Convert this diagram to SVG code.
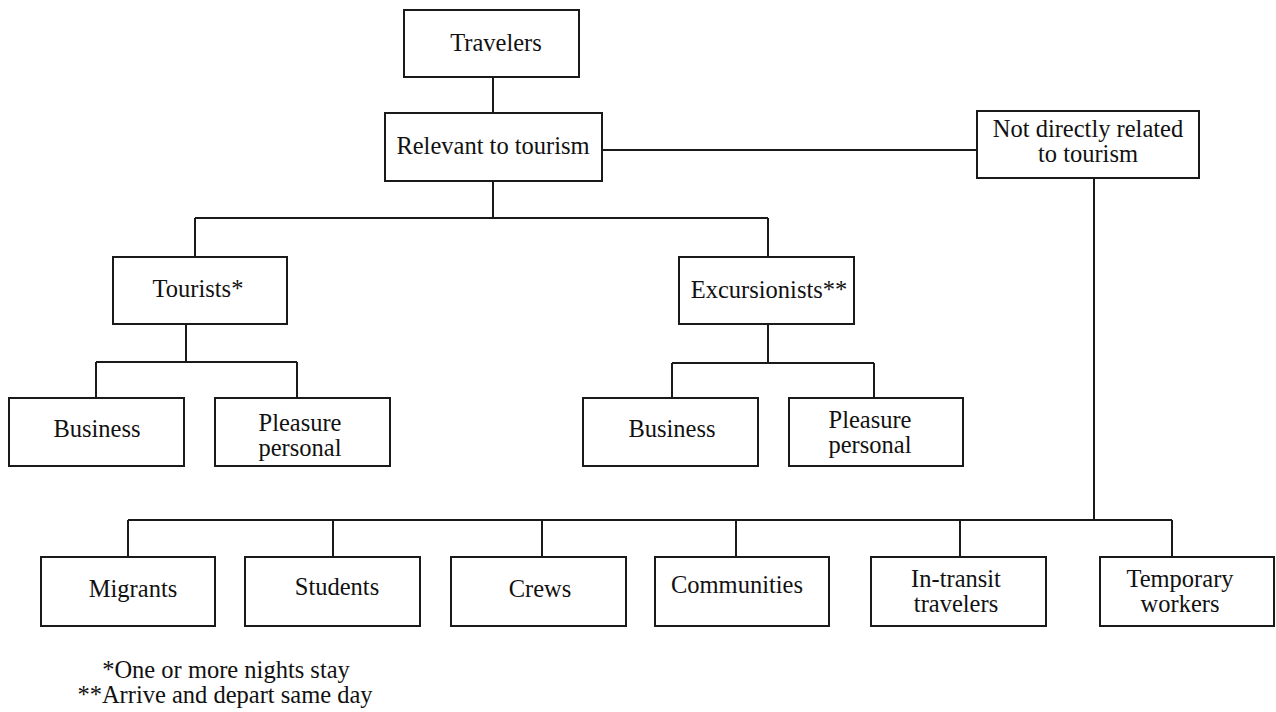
<svg xmlns="http://www.w3.org/2000/svg" width="1276" height="712" viewBox="0 0 1276 712">
<style>
  .box { fill: #ffffff; stroke: #1a1a1a; stroke-width: 2; }
  .conn { fill: none; stroke: #1a1a1a; stroke-width: 2; }
  text { font-family: "Liberation Serif", "Times New Roman", serif; font-size: 24.5px; fill: #111111; text-anchor: middle; }
</style>
<rect width="1276" height="712" fill="#ffffff"/>
<g id="connectors">
  <path class="conn" d="M493 77 V113"/>
  <path class="conn" d="M602 150 H977"/>
  <path class="conn" d="M493 181 V218 M195 218 H768 M195 218 V257 M768 218 V257"/>
  <path class="conn" d="M186 324 V362 M96 362 H297 M96 362 V398 M297 362 V398"/>
  <path class="conn" d="M768 324 V363 M672 363 H874 M672 363 V398 M874 363 V398"/>
  <path class="conn" d="M1094 178 V520 M128 520 H1172 M128 520 V557 M333 520 V557 M542 520 V557 M736 520 V557 M960 520 V557 M1172 520 V557"/>
</g>
<g id="travelers"><rect class="box" x="404" y="10" width="175" height="67"/><text x="496" y="51">Travelers</text></g>
<g id="relevant"><rect class="box" x="385" y="113" width="217" height="68"/><text x="493" y="154">Relevant to tourism</text></g>
<g id="not-related"><rect class="box" x="977" y="111" width="222" height="67"/><text x="1088" y="137">Not directly related</text><text x="1088" y="162">to tourism</text></g>
<g id="tourists"><rect class="box" x="113" y="257" width="174" height="67"/><text x="198" y="297">Tourists*</text></g>
<g id="excursionists"><rect class="box" x="679" y="257" width="175" height="67"/><text x="769" y="298">Excursionists**</text></g>
<g id="business1"><rect class="box" x="9" y="398" width="175" height="68"/><text x="97" y="437">Business</text></g>
<g id="pleasure1"><rect class="box" x="215" y="398" width="175" height="68"/><text x="300" y="431">Pleasure</text><text x="300" y="456">personal</text></g>
<g id="business2"><rect class="box" x="583" y="398" width="175" height="68"/><text x="672" y="437">Business</text></g>
<g id="pleasure2"><rect class="box" x="789" y="398" width="174" height="68"/><text x="870" y="428">Pleasure</text><text x="870" y="453">personal</text></g>
<g id="migrants"><rect class="box" x="41" y="557" width="174" height="69"/><text x="133" y="597">Migrants</text></g>
<g id="students"><rect class="box" x="245" y="557" width="175" height="69"/><text x="337" y="595">Students</text></g>
<g id="crews"><rect class="box" x="451" y="557" width="175" height="69"/><text x="540" y="597">Crews</text></g>
<g id="communities"><rect class="box" x="655" y="557" width="174" height="69"/><text x="737" y="593">Communities</text></g>
<g id="in-transit"><rect class="box" x="871" y="557" width="175" height="69"/><text x="956" y="587">In-transit</text><text x="956" y="612">travelers</text></g>
<g id="temporary"><rect class="box" x="1100" y="557" width="174" height="69"/><text x="1180" y="587">Temporary</text><text x="1180" y="612">workers</text></g>
<g id="footnotes"><text x="226" y="678">*One or more nights stay</text><text x="225" y="703">**Arrive and depart same day</text></g>
</svg>
